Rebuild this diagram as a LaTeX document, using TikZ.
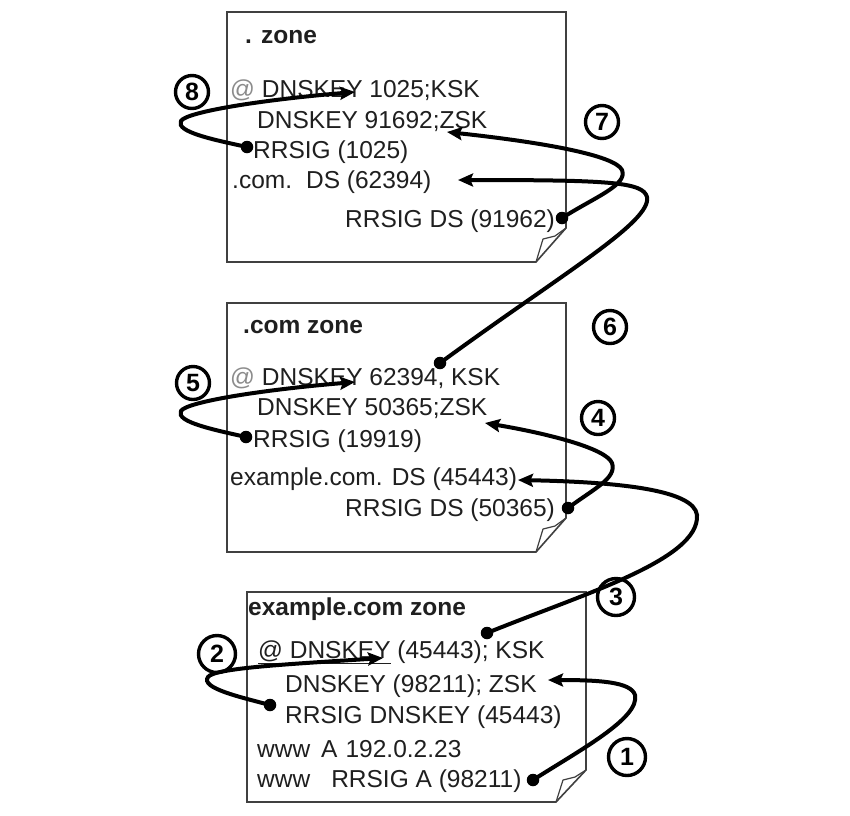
\documentclass[tikz,border=0pt]{standalone}
\usepackage{fontspec}
\setmainfont{Liberation Sans}
\usetikzlibrary{arrows.meta}
\begin{document}
\begin{tikzpicture}[x=1pt,y=-1pt]
\tikzset{
  zonebox/.style={draw=black!75, line width=1.6pt, fill=white, line join=miter},
  flap/.style={draw=black!75, line width=1.2pt, line join=round},
  ln/.style={anchor=base west, inner sep=0pt, text=black!88, font=\fontsize{24.5}{28}\selectfont},
  ttl/.style={anchor=base west, inner sep=0pt, text=black!88, font=\fontsize{24.5}{28}\selectfont\bfseries},
  conn/.style={line width=4pt, draw=black, -{Stealth[length=15pt,width=13pt,inset=2.5pt]}},
  dot/.style={circle, fill=black, inner sep=0pt, minimum size=12.5pt},
  num/.style={circle, draw=black, line width=3.4pt, minimum size=33pt, inner sep=0pt, font=\fontsize{25}{25}\selectfont\bfseries},
  bignum/.style={num, minimum size=37pt},
}
\useasboundingbox (0,0) rectangle (850,815);
\fill[white] (0,0) rectangle (850,815);

% ---------- zone boxes ----------
\draw[zonebox] (227,12) -- (566,12) -- (566,228) -- (536,262) -- (227,262) -- cycle;
\draw[flap] (536,262) -- (543,239) -- (555,236) -- (566,228);
\draw[zonebox] (227,303) -- (566,303) -- (566,518) -- (536,552) -- (227,552) -- cycle;
\draw[flap] (536,552) -- (543,529) -- (555,526) -- (566,518);
\draw[zonebox] (247,592) -- (586,592) -- (586,770) -- (556,802) -- (247,802) -- cycle;
\draw[flap] (556,802) -- (563,780) -- (575,777) -- (586,770);

% ---------- texts: . zone ----------
\node[ttl] (z1t) at (245,43) {. zone};
\node[ln] (z1a) at (230,97) {{\color{black!45}@} DNSKEY 1025;KSK};
\node[ln] (z1b) at (257,128) {DNSKEY 91692;ZSK};
\node[ln] (z1c) at (253,158) {RRSIG (1025)};
\node[ln] (z1d) at (232,188) {.com.\hspace{14pt}DS (62394)};
\node[ln] (z1e) at (345,227) {RRSIG DS (91962)};

% ---------- texts: .com zone ----------
\node[ttl] (z2t) at (243,333) {.com zone};
\node[ln] (z2a) at (230,385) {{\color{black!45}@} DNSKEY 62394, KSK};
\node[ln] (z2b) at (257,415) {DNSKEY 50365;ZSK};
\node[ln] (z2c) at (253,447) {RRSIG (19919)};
\node[ln] (z2d) at (230,485) {example.com. DS (45443)};
\node[ln] (z2e) at (345,516) {RRSIG DS (50365)};

% ---------- texts: example.com zone ----------
\node[ttl] (z3t) at (248,615) {example.com zone};
\node[ln] (z3a) at (258,658) {\underline{@ DNSKEY} (45443); KSK};
\node[ln] (z3b) at (285,692) {DNSKEY (98211); ZSK};
\node[ln] (z3c) at (285,723) {RRSIG DNSKEY (45443)};
\node[ln] (z3d) at (257,757) {www\hspace{11pt}A\hspace{8pt}192.0.2.23};
\node[ln] (z3e) at (257,787) {www\hspace{21pt}RRSIG A (98211)};

% ---------- connector end points ----------
\coordinate (d8) at (247,147); \coordinate (t8) at (355,92);
\coordinate (d7) at (562,218); \coordinate (t7) at (447,132);
\coordinate (d6) at (440,363); \coordinate (t6) at (458,180);
\coordinate (d5) at (246,437); \coordinate (t5) at (355,382);
\coordinate (d4) at (568,508); \coordinate (t4) at (485,423);
\coordinate (d3) at (487,633); \coordinate (t3) at (518,480);
\coordinate (d2) at (270,705); \coordinate (t2) at (383,658);
\coordinate (d1) at (533,780); \coordinate (t1) at (548,680);

% ---------- connectors ----------
\draw[conn] (d8) .. controls (215,140) and (175,132) .. (181,121) .. controls (186,112) and (260,100) .. (t8);
\draw[conn] (d7) .. controls (595,197) and (628,185) .. (622,170) .. controls (615,155) and (540,142) .. (t7);
\draw[conn] (d6) .. controls (560,275) and (652,222) .. (647,197) .. controls (643,182) and (610,180) .. (t6);
\draw[conn] (d5) .. controls (215,430) and (175,422) .. (181,411) .. controls (186,402) and (260,390) .. (t5);
\draw[conn] (d4) .. controls (595,488) and (617,478) .. (612,463) .. controls (606,448) and (545,433) .. (t4);
\draw[conn] (d3) .. controls (580,595) and (700,560) .. (697,515) .. controls (694,490) and (620,482) .. (t3);
\draw[conn] (d2) .. controls (240,697) and (200,688) .. (208,677) .. controls (214,668) and (290,664) .. (t2);
\draw[conn] (d1) .. controls (580,750) and (640,718) .. (635,695) .. controls (631,682) and (600,680) .. (t1);

\foreach \p in {d1,d2,d3,d4,d5,d6,d7,d8} \node[dot] at (\p) {};

% ---------- step numbers ----------
\node[num] (n8) at (192,92) {8};
\node[num] (n7) at (602,122) {7};
\node[num] (n6) at (610,327) {6};
\node[num] (n5) at (193,383) {5};
\node[num] (n4) at (598,418) {4};
\node[bignum] (n3) at (616,597) {3};
\node[bignum] (n2) at (217,654) {2};
\node[bignum] (n1) at (627,757) {1};
\end{tikzpicture}
\end{document}
